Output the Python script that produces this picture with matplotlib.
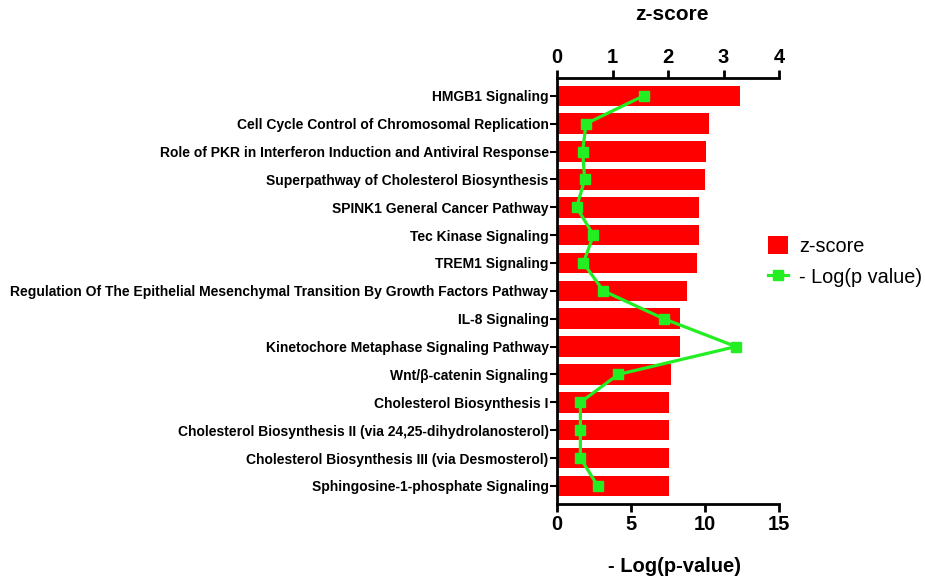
import matplotlib
matplotlib.use("Agg")
import matplotlib.pyplot as plt
from matplotlib.patches import Patch
from matplotlib.lines import Line2D

plt.rcParams['font.family'] = ['Liberation Sans', 'DejaVu Sans']

categories = [
    "HMGB1 Signaling",
    "Cell Cycle Control of Chromosomal Replication",
    "Role of PKR in Interferon Induction and Antiviral Response",
    "Superpathway of Cholesterol Biosynthesis",
    "SPINK1 General Cancer Pathway",
    "Tec Kinase Signaling",
    "TREM1 Signaling",
    "Regulation Of The Epithelial Mesenchymal Transition By Growth Factors Pathway",
    "IL-8 Signaling",
    "Kinetochore Metaphase Signaling Pathway",
    "Wnt/β-catenin Signaling",
    "Cholesterol Biosynthesis I",
    "Cholesterol Biosynthesis II (via 24,25-dihydrolanosterol)",
    "Cholesterol Biosynthesis III (via Desmosterol)",
    "Sphingosine-1-phosphate Signaling",
]
z_scores = [3.30, 2.74, 2.69, 2.67, 2.55, 2.55, 2.52, 2.35, 2.22, 2.21, 2.05, 2.02, 2.02, 2.02, 2.02]
neg_log_p = [5.86, 1.96, 1.73, 1.87, 1.33, 2.46, 1.78, 3.13, 7.21, 12.09, 4.14, 1.58, 1.58, 1.58, 2.75]
z_ticks = [0, 1, 2, 3, 4]
p_ticks = [0, 5, 10, 15]

RED = '#FF0000'
GREEN = '#22EE22'

fig = plt.figure(figsize=(9.25, 5.78), dpi=100)
ax = fig.add_axes([557/925, 1-504/578, (779-557)/925, (504-77.7)/578])
ax2 = ax.twiny()

y = list(range(len(categories)))
ylim = (len(categories) - 0.35, -0.65)

ax.barh(y, z_scores, height=0.74, color=RED, zorder=2)
ax.set_xlim(0, 4)
ax.set_ylim(*ylim)
ax.set_yticks(y)
ax.set_yticklabels(categories, fontsize=10, fontweight='bold')
ax.set_xticks(z_ticks)

ax2.plot(neg_log_p, y, color=GREEN, lw=2.3, marker='s', ms=7.5, zorder=3)
ax2.set_xlim(0, 15)
ax2.set_ylim(*ylim)
ax2.set_xticks(p_ticks)

ax.xaxis.set_ticks_position('top')
ax.xaxis.set_label_position('top')
ax2.xaxis.set_ticks_position('bottom')
ax2.xaxis.set_label_position('bottom')

for a in (ax, ax2):
    a.tick_params(axis='x', labelsize=14.5, width=2, length=6, pad=2)
    for lab in a.get_xticklabels():
        lab.set_fontweight('bold')
    a.spines['right'].set_visible(False)
    for s in ('left', 'top', 'bottom'):
        a.spines[s].set_linewidth(2)
ax.tick_params(axis='y', width=1.5, length=5, pad=1)
ax2.spines['left'].set_visible(False)
ax.spines['bottom'].set_visible(False)
ax2.spines['top'].set_visible(False)

fig.text(672/925, 1-15/578, "z-score", ha='center', va='center', fontsize=15, fontweight='bold')
fig.text(675/925, 1-567/578, "- Log(p-value)", ha='center', va='center', fontsize=14.5, fontweight='bold')

handles = [Patch(facecolor=RED, edgecolor='none'),
           Line2D([0], [0], color=GREEN, lw=2.3, marker='s', ms=7.5)]
fig.legend(handles, ["z-score", "- Log(p value)"], loc='upper left',
           bbox_to_anchor=(768/925, 1-236/578), frameon=False, fontsize=14.3,
           handlelength=1.0, handleheight=1.0, labelspacing=0.6, handletextpad=0.55,
           borderpad=0, borderaxespad=0)

fig.savefig("out.png", dpi=100)
